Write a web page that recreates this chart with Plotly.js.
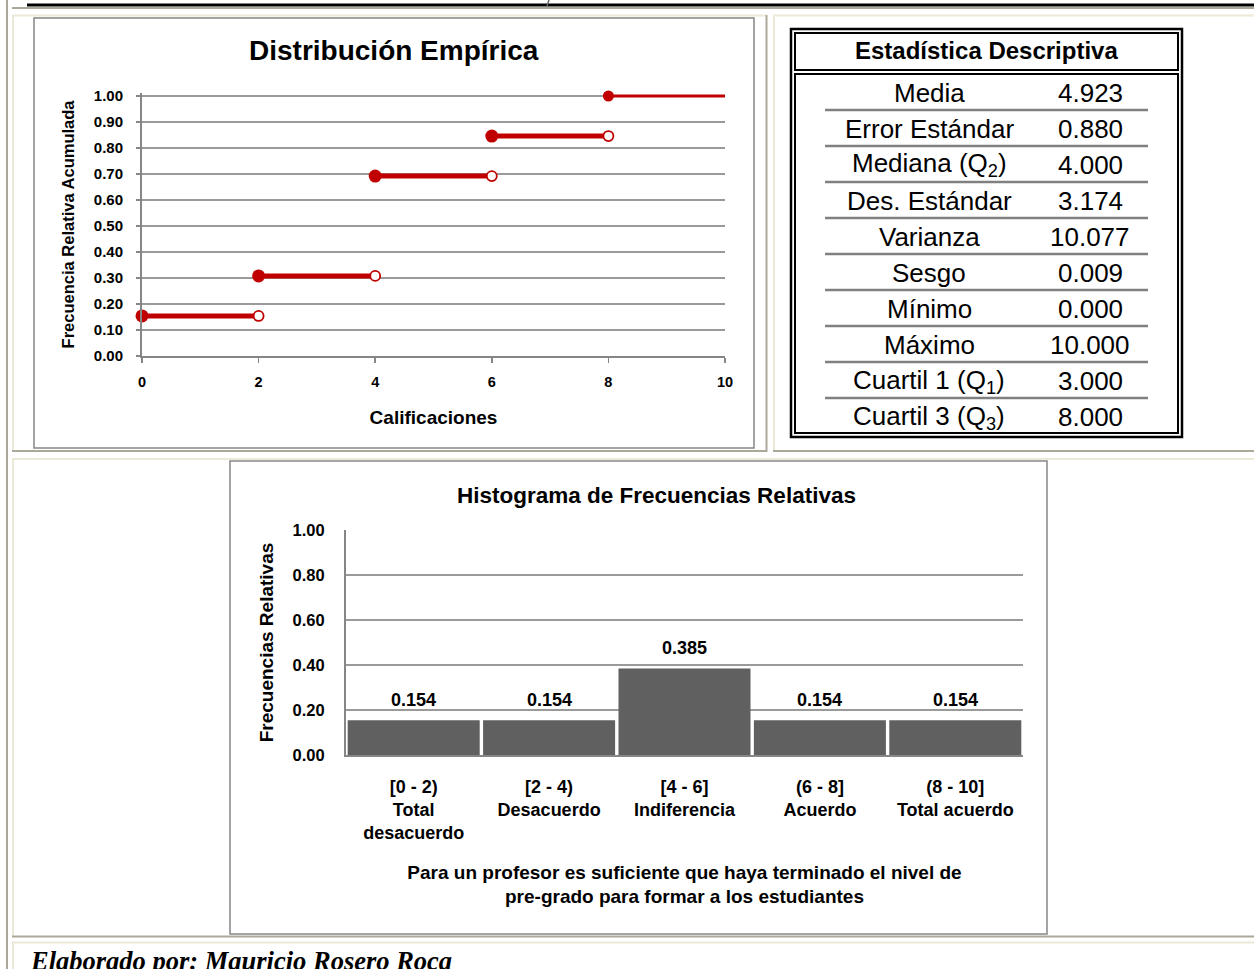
<!DOCTYPE html>
<html>
<head>
<meta charset="utf-8">
<script src="https://cdn.plot.ly/plotly-3.0.1.min.js"></script>
<style>html,body{margin:0;padding:0;background:#fff;}#chart{width:1254px;height:969px;}</style>
</head>
<body>
<div id="chart"></div>
<script>
// ---- Data ----
const stepStart = [0, 2, 4, 6, 8];
const stepEnd = [2, 4, 6, 8, 10];
const cumRelFreq = [0.154, 0.308, 0.692, 0.846, 1.000];

const histCategories = [
  "[0 - 2)<br>Total<br>desacuerdo",
  "[2 - 4)<br>Desacuerdo",
  "[4 - 6]<br>Indiferencia",
  "(6 - 8]<br>Acuerdo",
  "(8 - 10]<br>Total acuerdo"
];
const histRelFreq = [0.154, 0.154, 0.385, 0.154, 0.154];

const statLabels = [
  "Media", "Error Estándar", "Mediana (Q<sub>2</sub>)", "Des. Estándar", "Varianza",
  "Sesgo", "Mínimo", "Máximo", "Cuartil 1 (Q<sub>1</sub>)", "Cuartil 3 (Q<sub>3</sub>)"
];
const statValues = ["4.923", "0.880", "4.000", "3.174", "10.077", "0.009", "0.000", "10.000", "3.000", "8.000"];

const chart1Title = "Distribución Empírica";
const chart1XTitle = "Calificaciones";
const chart1YTitle = "Frecuencia Relativa Acumulada";
const chart2Title = "Histograma de Frecuencias Relativas";
const chart2XTitle = "Para un profesor es suficiente que haya terminado el nivel de<br>pre-grado para formar a los estudiantes";
const chart2YTitle = "Frecuencias Relativas";
const tableTitle = "Estadística Descriptiva";
const footerText = "Elaborado por: Mauricio Rosero Roca";

// ---- Helpers ----
const W = 1254, H = 969;
const X = p => p / W;
const Y = p => 1 - p / H;
const SANS = "Liberation Sans, Arial, Helvetica, sans-serif";
const RED = "#c00000";
const AXC = "#868686";
const GRID = "#9a9a9a";
const LIGHT = "#ece9d8";
const DARK = "#aca899";

// chart 1 plot area (0 at y=356px, 1.0 at y=96px) with a little headroom so the top step is not clipped
const Y1_TOP = 1.012;
const y1PxPerUnit = (356 - 96);
const y1DomainTopPx = 356 - Y1_TOP * y1PxPerUnit;

// ---- Traces ----
const segX = [], segY = [];
for (let i = 0; i < stepStart.length - 1; i++) {
  segX.push(stepStart[i], stepEnd[i], null);
  segY.push(cumRelFreq[i], cumRelFreq[i], null);
}
const last = stepStart.length - 1;
const traces = [
  { type: "scatter", mode: "lines", x: segX, y: segY, xaxis: "x", yaxis: "y", cliponaxis: false,
    line: { color: RED, width: 5 }, hoverinfo: "skip" },
  { type: "scatter", mode: "lines", x: [stepStart[last], stepEnd[last]], y: [cumRelFreq[last], cumRelFreq[last]],
    xaxis: "x", yaxis: "y", cliponaxis: false, line: { color: RED, width: 3.2 }, hoverinfo: "skip" },
  { type: "scatter", mode: "markers", x: stepEnd.slice(0, last), y: cumRelFreq.slice(0, last),
    xaxis: "x", yaxis: "y", cliponaxis: false, opacity: 1,
    marker: { symbol: "circle", size: 10, color: "#ffffff", opacity: 1, line: { color: RED, width: 1.8 } } },
  { type: "scatter", mode: "markers", x: stepStart, y: cumRelFreq, xaxis: "x", yaxis: "y", cliponaxis: false, opacity: 1,
    marker: { symbol: "circle", size: stepStart.map((v, i) => i === last ? 11 : 13), color: RED, opacity: 1,
      line: { color: RED, width: 0 } } },
  { type: "bar", x: histCategories, y: histRelFreq, xaxis: "x2", yaxis: "y2",
    marker: { color: "#606060" }, hoverinfo: "skip" }
];

// ---- Shapes ----
const shapes = [];
function hline(x0, x1, y, color, width) {
  shapes.push({ type: "line", xref: "paper", yref: "paper", x0: X(x0), x1: X(x1), y0: Y(y), y1: Y(y), line: { color, width } });
}
function vline(x, y0, y1, color, width) {
  shapes.push({ type: "line", xref: "paper", yref: "paper", x0: X(x), x1: X(x), y0: Y(y0), y1: Y(y1), line: { color, width } });
}
function rect(x0, y0, x1, y1, color, width, fill) {
  shapes.push({ type: "rect", xref: "paper", yref: "paper", x0: X(x0), x1: X(x1), y0: Y(y1), y1: Y(y0),
    line: { color, width }, fillcolor: fill || "rgba(0,0,0,0)" });
}
// page structure
hline(27, 1254, 5, "#000000", 3);
shapes.push({ type: "line", xref: "paper", yref: "paper", x0: X(549), x1: X(547), y0: Y(0), y1: Y(6), line: { color: "#666666", width: 1.5 } });
hline(12, 1254, 8, DARK, 2);
vline(7, 0, 969, DARK, 2);
// cell 1
hline(12, 767, 15.5, LIGHT, 2); vline(13, 15, 452, LIGHT, 2);
vline(766.5, 15, 452, DARK, 2); hline(12, 767, 451, DARK, 2);
// cell 2
hline(773, 1254, 15.5, LIGHT, 2); vline(774, 15, 452, LIGHT, 2); hline(773, 1254, 451, DARK, 2);
// cell 3
hline(12, 1254, 459, LIGHT, 2); vline(13, 459, 937, LIGHT, 2); hline(12, 1254, 936.5, DARK, 2);
// footer cell
hline(12, 1254, 942.5, LIGHT, 2); vline(13, 942, 969, LIGHT, 2);
// chart frames
rect(34, 18, 754, 448, AXC, 1.5);
rect(230, 461, 1047, 934, AXC, 1.5);
// table borders
rect(791, 29, 1182, 437, "#000000", 2.5);
rect(795, 33, 1178, 70, "#000000", 2);
rect(795, 74, 1178, 433, "#000000", 2);
for (let i = 0; i < statLabels.length - 1; i++) {
  hline(825, 1148, 110 + 36 * i, "#808080", 2.5);
}

// ---- Annotations ----
const annotations = [];
function ann(text, px, py, size, opts) {
  annotations.push(Object.assign({
    text, x: X(px), y: Y(py), xref: "paper", yref: "paper", showarrow: false,
    xanchor: "center", yanchor: "middle",
    font: { family: SANS, size, color: "#000000" }
  }, opts || {}));
}
ann(chart1Title, 394, 50, 28, { font: { family: SANS, size: 28, color: "#000", weight: "bold" } });
ann(chart2Title, 656, 495, 22.5, { font: { family: SANS, size: 22.5, color: "#000", weight: "bold" } });
ann(tableTitle, 986, 51, 24, { font: { family: SANS, size: 24, color: "#000", weight: "bold" } });
statLabels.forEach((lab, i) => {
  ann(lab, 929, 93 + 36 * i, 26);
  ann(statValues[i], 1090, 93 + 36 * i, 26);
});
annotations.push({
  text: footerText, x: X(28), y: Y(944), xref: "paper", yref: "paper", showarrow: false,
  xanchor: "left", yanchor: "top",
  font: { family: "Liberation Serif, Times New Roman, serif", size: 26.5, color: "#000", weight: "bold", style: "italic" }
});
histRelFreq.forEach((v, i) => {
  annotations.push({
    text: v.toFixed(3), x: histCategories[i], y: v, xref: "x2", yref: "y2", showarrow: false,
    xanchor: "center", yanchor: "bottom", yshift: 8,
    font: { family: SANS, size: 18, color: "#000", weight: "bold" }
  });
});

// ---- Layout ----
const tickBold = (s) => ({ family: SANS, size: s, color: "#000", weight: "bold" });
const layout = {
  width: W, height: H,
  margin: { l: 0, r: 0, t: 0, b: 0 },
  paper_bgcolor: "#ffffff",
  plot_bgcolor: "rgba(0,0,0,0)",
  showlegend: false,
  bargap: 0.025,
  xaxis: {
    domain: [X(142), X(725)], anchor: "y", range: [0, 10], dtick: 2, tick0: 0,
    showgrid: false, zeroline: false, showline: true, linecolor: AXC, linewidth: 2,
    ticks: "outside", ticklen: 5, tickcolor: AXC, tickwidth: 1.5,
    tickfont: tickBold(14.5), ticklabelstandoff: 7,
    title: { text: chart1XTitle, font: tickBold(19), standoff: 21 },
    fixedrange: true
  },
  yaxis: {
    domain: [Y(356), Y(y1DomainTopPx)], anchor: "x", range: [0, Y1_TOP], dtick: 0.1, tick0: 0, tickformat: ".2f",
    showgrid: true, gridcolor: GRID, gridwidth: 1.8, zeroline: false,
    showline: true, linecolor: AXC, linewidth: 2,
    ticks: "outside", ticklen: 4, tickcolor: AXC, tickwidth: 1.5,
    tickfont: tickBold(15), ticklabelstandoff: 10,
    title: { text: chart1YTitle, font: tickBold(16.5), standoff: 15 },
    fixedrange: true
  },
  xaxis2: {
    domain: [X(346), X(1023)], anchor: "y2", type: "category",
    showgrid: false, zeroline: false, showline: true, linecolor: AXC, linewidth: 2,
    ticks: "", tickfont: tickBold(18), ticklabelstandoff: 14,
    title: { text: chart2XTitle, font: tickBold(19), standoff: 23 },
    fixedrange: true
  },
  yaxis2: {
    domain: [Y(755), Y(530)], anchor: "x2", range: [0, 1], dtick: 0.2, tick0: 0, tickformat: ".2f",
    showgrid: true, gridcolor: GRID, gridwidth: 1.8, zeroline: false,
    showline: true, linecolor: AXC, linewidth: 2,
    ticks: "", tickfont: tickBold(16.5), ticklabelstandoff: 16,
    title: { text: chart2YTitle, font: tickBold(19), standoff: 14 },
    fixedrange: true
  },
  shapes, annotations
};

Plotly.newPlot("chart", traces, layout, { displayModeBar: false, staticPlot: true });
</script>
</body>
</html>
